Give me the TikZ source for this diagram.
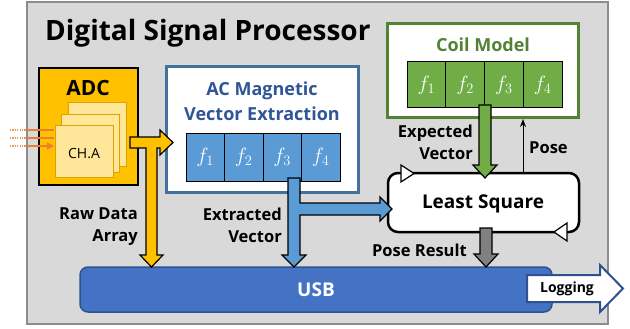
\documentclass[tikz,border=0pt]{standalone}
\usepackage{fontspec}
\setmainfont{Open Sans}
\usetikzlibrary{arrows.meta,calc}
\definecolor{bggray}{HTML}{D9D9D9}
\definecolor{bgedge}{HTML}{8C8C8C}
\definecolor{adcy}{HTML}{FFC000}
\definecolor{chy}{HTML}{FFE699}
\definecolor{chedge}{HTML}{DDA400}
\definecolor{acblue}{HTML}{41719C}
\definecolor{actext}{HTML}{2F5597}
\definecolor{cellblue}{HTML}{5B9BD5}
\definecolor{coilg}{HTML}{548235}
\definecolor{cellg}{HTML}{70AD47}
\definecolor{usbblue}{HTML}{4472C4}
\definecolor{usbedge}{HTML}{2F528F}
\definecolor{orangeln}{HTML}{ED7D31}
\definecolor{grayarr}{HTML}{808080}
\begin{document}
\begin{tikzpicture}[x=1pt,y=-1pt,
  box/.style={inner sep=0pt,outer sep=0pt,anchor=north west},
  lbl/.style={font=\bfseries\fontsize{16.5}{22}\selectfont,align=right,inner sep=0pt},
  cellf/.style={font=\fontsize{21}{21}\selectfont,text=white},
  blockarrow/.style={draw=black,line width=1.2pt,line join=miter}]
\useasboundingbox (0,0) rectangle (630,329);
% background
\node[box,draw=bgedge,fill=bggray,line width=1.5pt,minimum width=581pt,minimum height=322pt] (dsp) at (27,2) {};
\node[anchor=west,font=\bfseries\fontsize{28}{28}\selectfont,inner sep=0pt] (title) at (45,33) {Digital Signal Processor};

% orange input lines
\foreach \yy/\nm in {130/a,138/b,146/c}{
  \coordinate (in\nm) at (10,\yy);
  \coordinate (mid\nm) at (27,\yy);
  \coordinate (end\nm) at (54,\yy);
  \draw[orangeln!80,line width=1.3pt,dash pattern=on 1.2pt off 1.2pt] (in\nm) -- (mid\nm);
}
% ADC
\node[box,draw=black,fill=adcy,line width=2pt,minimum width=99pt,minimum height=117pt] (adc) at (39,68) {};
\node[font=\bfseries\fontsize{21}{21}\selectfont,inner sep=0pt] (adct) at (88,88) {ADC};
\draw[orangeln,line width=1.2pt] (mida) -- (enda);
\draw[orangeln,line width=1.2pt] (midb) -- (endb);
\draw[orangeln,line width=1.2pt,-{Triangle[length=7pt,width=7pt]}] (midc) -- (endc);
\node[box,draw=chedge,fill=chy,line width=1pt,minimum width=58pt,minimum height=63pt] (ch3) at (68,103) {};
\node[box,draw=chedge,fill=chy,line width=1pt,minimum width=58pt,minimum height=57pt] (ch2) at (61,115) {};
\node[box,draw=chedge,fill=chy,line width=1pt,minimum width=58pt,minimum height=51pt] (ch1) at (55,126) {};
\node[font=\fontsize{14}{14}\selectfont,inner sep=0pt] (cht) at (84,154) {CH.A};

% AC magnetic box
\node[box,draw=acblue,fill=white,line width=3pt,minimum width=192pt,minimum height=125pt] (ac) at (166,67) {};
\node[font=\bfseries\fontsize{18}{25}\selectfont,text=actext,align=center,inner sep=0pt] (act) at (262,101) {AC Magnetic\\Vector Extraction};
\foreach \i in {1,2,3,4}{
  \node[box,draw=black,fill=cellblue,line width=1pt,minimum width=38.5pt,minimum height=47pt] (ac\i) at ({186+38.5*(\i-1)},134) {};
  \node[cellf] at (ac\i.center) {$f_{\i}$};
}

% Coil model
\node[box,draw=coilg,fill=white,line width=3pt,minimum width=191pt,minimum height=94pt] (coil) at (387,24) {};
\node[font=\bfseries\fontsize{18}{18}\selectfont,text=coilg,inner sep=0pt] (coilt) at (483,45) {Coil Model};
\foreach \i in {1,2,3,4}{
  \node[box,draw=black,fill=cellg,line width=1pt,minimum width=38.75pt,minimum height=46pt] (cm\i) at ({407+38.75*(\i-1)},62) {};
  \node[cellf] at (cm\i.center) {$f_{\i}$};
}

% Least square
\node[box,draw=black,fill=white,line width=2.5pt,rounded corners=10pt,minimum width=191pt,minimum height=59pt] (ls) at (388,173) {};
\node[font=\bfseries\fontsize{19}{19}\selectfont,inner sep=0pt] (lst) at (483,204) {Least Square};
\draw[fill=white,line width=1.2pt,line join=miter] (401,165) -- (414,173.5) -- (401,182) -- cycle;
\draw[fill=white,line width=1.2pt,line join=miter] (567,223) -- (554,232) -- (567,241) -- cycle;

% USB
\node[box,draw=usbedge,fill=usbblue,line width=1.5pt,rounded corners=8pt,minimum width=472pt,minimum height=45pt] (usb) at (80,267) {};
\node[font=\bfseries\fontsize{19}{19}\selectfont,text=white,inner sep=0pt] (usbt) at (316,290) {USB};

% Logging arrow
\draw[fill=white,draw=usbedge,line width=2pt,line join=miter]
  (527,275) -- (600,275) -- (600,265) -- (623,288.5) -- (600,312) -- (600,302) -- (527,302) -- cycle;
\node[font=\bfseries\fontsize{14}{14}\selectfont,inner sep=0pt] (logt) at (567,289) {Logging};

% yellow T arrow
\draw[blockarrow,fill=adcy]
  (130,137) -- (160,137) -- (160,130) -- (173,142.5) -- (160,155) -- (160,148) -- (157,148)
  -- (157,255) -- (163,255) -- (151.5,267) -- (140,255) -- (146,255) -- (146,148) -- (130,148) -- cycle;

% blue arrow
\draw[blockarrow,fill=cellblue]
  (288,178) -- (300,178) -- (300,203) -- (380,203) -- (380,197) -- (392,209) -- (380,221) -- (380,215)
  -- (300,215) -- (300,255) -- (306,255) -- (294,267) -- (282,255) -- (288,255) -- cycle;

% green arrow
\draw[blockarrow,fill=cellg]
  (479,105) -- (491,105) -- (491,165) -- (497,165) -- (485,178) -- (473,165) -- (479,165) -- cycle;

% gray arrow
\draw[blockarrow,fill=grayarr]
  (480,228) -- (492,228) -- (492,254) -- (498,254) -- (486,267) -- (474,254) -- (480,254) -- cycle;

% pose arrow
\coordinate (posefrom) at (523,172);
\coordinate (poseto) at (523,119);
\draw[line width=1pt,-{Stealth[length=8pt,width=6pt]}] (posefrom) -- (poseto);

% labels
\node[lbl,anchor=north east] (exv) at (473,125) {Expected\\Vector};
\node[lbl,anchor=west] (pose) at (529,148) {Pose};
\node[lbl,anchor=north east] (raw) at (138,208) {Raw Data\\Array};
\node[lbl,anchor=north east] (exv2) at (282,208) {Extracted\\Vector};
\node[lbl,anchor=east] (pr) at (467,250) {Pose Result};
\end{tikzpicture}
\end{document}
